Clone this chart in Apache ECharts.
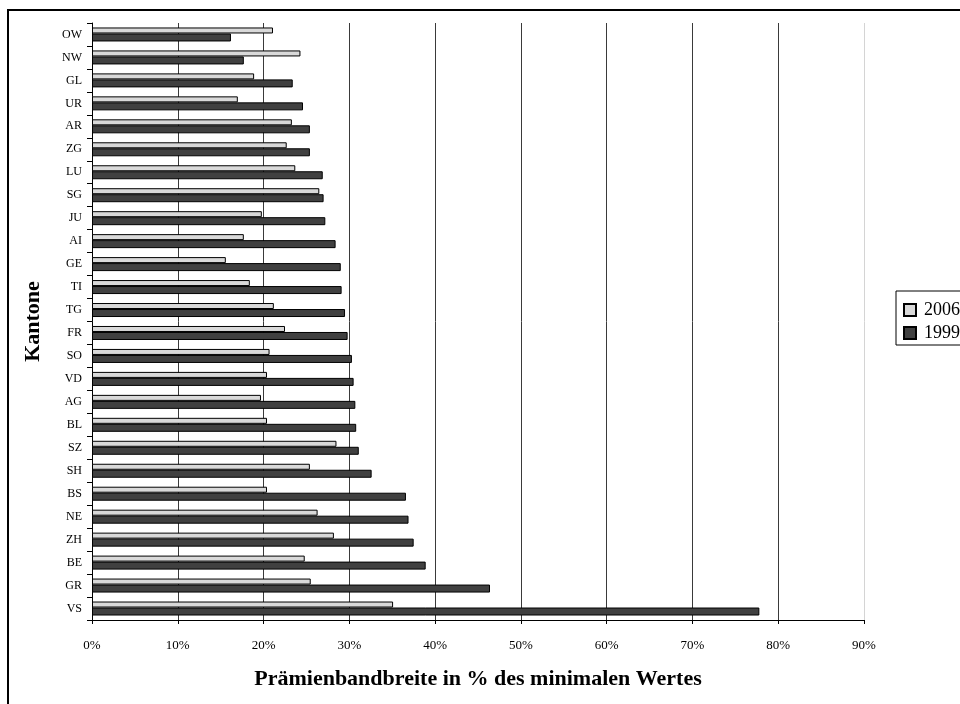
<!DOCTYPE html>
<html>
<head>
<meta charset="utf-8">
<script src="https://cdn.jsdelivr.net/npm/echarts@6/dist/echarts.min.js"></script>
<style>
  html, body { margin: 0; padding: 0; background: #fff; }
  #chart { width: 960px; height: 704px; }
</style>
</head>
<body>
<div id="chart"></div>
<script>
// Cantons, top to bottom
const kantone = ['OW','NW','GL','UR','AR','ZG','LU','SG','JU','AI','GE','TI','TG','FR','SO','VD','AG','BL','SZ','SH','BS','NE','ZH','BE','GR','VS'];

// Premium range as % of the minimal value
const werte2006 = [21.1,24.3,18.9,17.0,23.3,22.7,23.7,26.5,19.8,17.7,15.6,18.4,21.2,22.5,20.7,20.4,19.7,20.4,28.5,25.4,20.4,26.3,28.2,24.8,25.5,35.1];
const werte1999 = [16.2,17.7,23.4,24.6,25.4,25.4,26.9,27.0,27.2,28.4,29.0,29.1,29.5,29.8,30.3,30.5,30.7,30.8,31.1,32.6,36.6,36.9,37.5,38.9,46.4,77.8];

const serif = 'Liberation Serif';

// Gridlines at 0..90 %; the last one is the pale right edge of the plot
const gridColors = ['#3a3a3a','#3a3a3a','#3a3a3a','#3a3a3a','#3a3a3a','#3a3a3a','#3a3a3a','#3a3a3a','#3a3a3a','#d4d4d4'];

const chart = echarts.init(document.getElementById('chart'), null, { renderer: 'canvas' });

chart.setOption({
  animation: false,
  backgroundColor: '#fff',
  textStyle: { fontFamily: serif, color: '#000' },
  graphic: [{
    type: 'rect',
    shape: { x: 8, y: 10, width: 1000, height: 760 },
    style: { fill: 'none', stroke: '#000', lineWidth: 2 },
    silent: true,
    z: 100
  }],
  legend: {
    orient: 'vertical',
    left: 896,
    top: 291,
    data: ['2006', '1999'],
    icon: 'rect',
    itemWidth: 12,
    itemHeight: 12,
    itemGap: 5,
    padding: [10, 40, 3, 7],
    borderColor: '#000',
    borderWidth: 1,
    textStyle: { fontFamily: serif, fontSize: 18, color: '#000', padding: [0, 0, 0, 3] }
  },
  grid: { left: 92, right: 96, top: 23, bottom: 84, containLabel: false },
  xAxis: {
    type: 'value',
    min: 0,
    max: 90,
    interval: 10,
    name: 'Prämienbandbreite in % des minimalen Wertes',
    nameLocation: 'middle',
    nameGap: 48,
    nameTextStyle: { fontFamily: serif, fontSize: 22, fontWeight: 'bold', color: '#000' },
    axisLine: { show: true, lineStyle: { color: '#000', width: 1 } },
    axisTick: { show: true, length: 4, lineStyle: { color: '#000' } },
    axisLabel: { formatter: '{value}%', fontFamily: serif, fontSize: 13, color: '#000', margin: 19 },
    splitLine: { show: true, lineStyle: { color: gridColors, width: 1 } }
  },
  yAxis: {
    type: 'category',
    data: kantone,
    inverse: true,
    name: 'Kantone',
    nameLocation: 'middle',
    nameGap: 48,
    nameRotate: 90,
    nameTextStyle: { fontFamily: serif, fontSize: 22, fontWeight: 'bold', color: '#000' },
    axisLine: { show: true, lineStyle: { color: '#000', width: 1 } },
    axisTick: { show: true, length: 5, lineStyle: { color: '#000' } },
    axisLabel: { fontFamily: serif, fontSize: 12, color: '#000', margin: 10 },
    splitLine: { show: false }
  },
  series: [
    {
      name: '2006',
      type: 'bar',
      data: werte2006,
      barWidth: 6,
      barGap: '0%',
      itemStyle: { color: '#d9d9d9', borderColor: '#000', borderWidth: 1 }
    },
    {
      name: '1999',
      type: 'bar',
      data: werte1999,
      barWidth: 8,
      barGap: '0%',
      itemStyle: { color: '#404040', borderColor: '#000', borderWidth: 1 }
    }
  ]
});
</script>
</body>
</html>
